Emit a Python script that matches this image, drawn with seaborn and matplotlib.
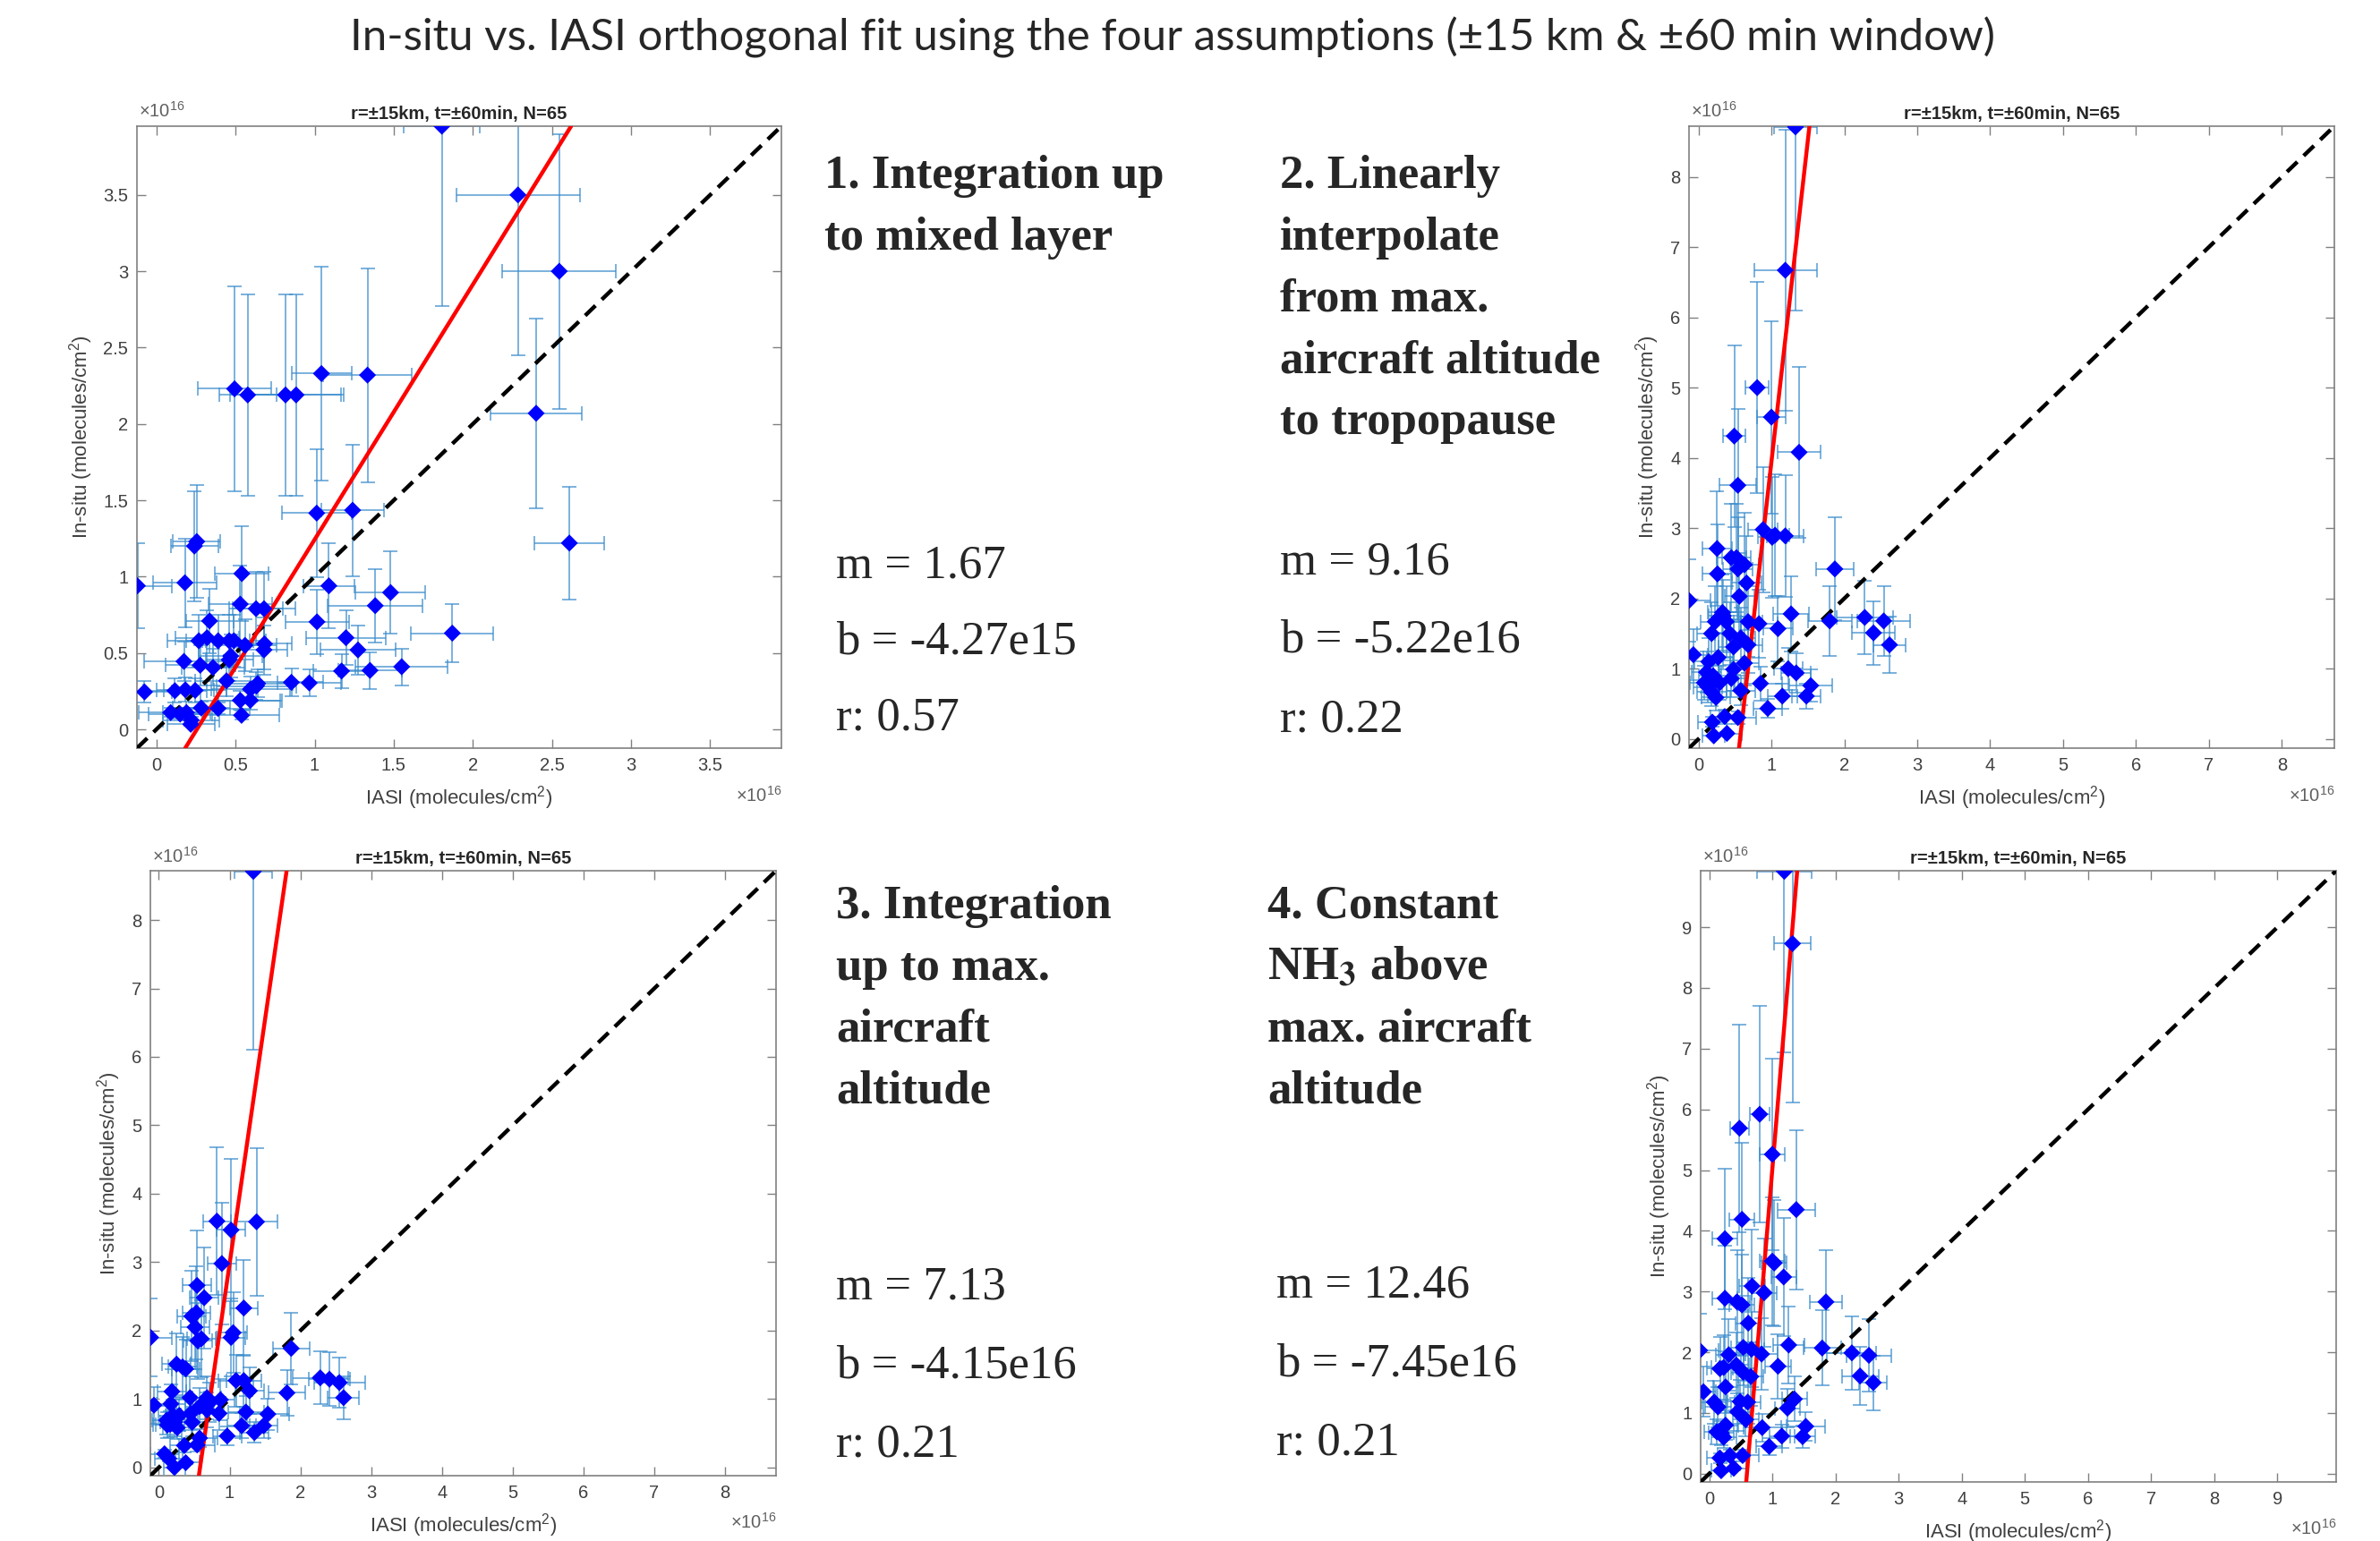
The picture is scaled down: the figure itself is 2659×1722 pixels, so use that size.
import matplotlib
matplotlib.use("Agg")
import matplotlib.pyplot as plt
import seaborn as sns
from matplotlib.ticker import FormatStrFormatter

# Column values are in units of 1e16 molecules/cm^2 (axes show the x10^16 multiplier)

# Panel 1: integration up to mixed layer
iasi_1 = [-0.12, -0.075, 0.09, 0.117, 0.15, 0.174, 0.18, 0.183, 0.19, 0.217,
          0.22, 0.24, 0.245, 0.255, 0.268, 0.277, 0.283, 0.32, 0.336, 0.358,
          0.39, 0.39, 0.443, 0.46, 0.46, 0.47, 0.49, 0.494, 0.53, 0.53,
          0.538, 0.54, 0.56, 0.577, 0.594, 0.594, 0.63, 0.632, 0.64, 0.68,
          0.683, 0.68, 0.816, 0.853, 0.883, 0.966, 1.013, 1.015, 1.043, 1.09,
          1.17, 1.198, 1.24, 1.274, 1.334, 1.35, 1.383, 1.48, 1.55, 1.804,
          1.87, 2.285, 2.40, 2.546, 2.61]
insitu_1 = [0.94, 0.245, 0.11, 0.253, 0.10, 0.445, 0.96, 0.259, 0.11, 0.033,
            0.06, 1.20, 0.255, 1.23, 0.58, 0.42, 0.14, 0.60, 0.71, 0.405,
            0.58, 0.137, 0.318, 0.58, 0.455, 0.48, 0.58, 2.23, 0.82, 0.19,
            0.092, 1.02, 0.55, 2.19, 0.263, 0.19, 0.79, 0.284, 0.30, 0.79,
            0.56, 0.52, 2.19, 0.308, 2.19, 0.304, 1.416, 0.704, 2.33, 0.94,
            0.382, 0.60, 1.435, 0.52, 2.32, 0.386, 0.81, 0.896, 0.41, 3.95,
            0.63, 3.50, 2.07, 3.0, 1.22]
iasi_err_1 = [0.22, 0.17, 0.2, 0.2, 0.2, 0.25, 0.2, 0.18, 0.15, 0.15,
              0.18, 0.15, 0.2, 0.15, 0.2, 0.22, 0.18, 0.2, 0.15, 0.2,
              0.2, 0.2, 0.2, 0.15, 0.15, 0.2, 0.2, 0.23, 0.2, 0.25,
              0.24, 0.17, 0.2, 0.18, 0.25, 0.2, 0.17, 0.25, 0.22, 0.2,
              0.17, 0.15, 0.35, 0.2, 0.3, 0.2, 0.22, 0.2, 0.19, 0.16,
              0.18, 0.25, 0.2, 0.24, 0.28, 0.2, 0.3, 0.22, 0.29, 0.24,
              0.26, 0.39, 0.29, 0.36, 0.22]
insitu_err_1 = [0.28, 0.07, 0.03, 0.08, 0.03, 0.13, 0.29, 0.08, 0.03, 0.01,
                0.02, 0.36, 0.08, 0.37, 0.17, 0.13, 0.04, 0.18, 0.21, 0.12,
                0.17, 0.04, 0.10, 0.17, 0.14, 0.14, 0.17, 0.67, 0.25, 0.06,
                0.03, 0.31, 0.17, 0.66, 0.08, 0.06, 0.24, 0.09, 0.09, 0.24,
                0.17, 0.16, 0.66, 0.09, 0.66, 0.09, 0.42, 0.21, 0.70, 0.28,
                0.11, 0.18, 0.43, 0.16, 0.70, 0.12, 0.24, 0.27, 0.12, 1.18,
                0.19, 1.05, 0.62, 0.90, 0.37]

# Panel 2: linear interpolation from max. aircraft altitude to tropopause
iasi_2 = [-0.13, -0.07, 0.08, 0.11, 0.13, 0.14, 0.18, 0.18, 0.19, 0.20,
          0.21, 0.23, 0.24, 0.255, 0.26, 0.27, 0.29, 0.33, 0.34, 0.36,
          0.38, 0.39, 0.43, 0.45, 0.45, 0.48, 0.48, 0.49, 0.52, 0.54,
          0.54, 0.54, 0.56, 0.58, 0.58, 0.63, 0.63, 0.66, 0.68, 0.68,
          0.805, 0.83, 0.85, 0.886, 0.95, 1.0, 1.01, 1.05, 1.09, 1.15,
          1.19, 1.19, 1.23, 1.27, 1.33, 1.34, 1.38, 1.48, 1.54, 1.80,
          1.87, 2.28, 2.40, 2.54, 2.62]
insitu_2 = [1.97, 1.20, 0.80, 0.95, 0.74, 1.10, 1.50, 0.67, 0.24, 0.90,
            0.045, 1.67, 0.59, 2.71, 2.35, 1.16, 0.80, 1.80, 1.75, 0.32,
            1.67, 0.08, 1.50, 0.86, 2.58, 0.99, 1.31, 4.31, 2.58, 3.61,
            2.42, 0.305, 2.03, 1.44, 0.69, 2.48, 1.08, 2.22, 1.67, 1.34,
            5.0, 1.64, 0.79, 2.98, 0.435, 4.58, 2.87, 2.90, 1.57, 0.61,
            6.67, 2.89, 1.0, 1.78, 8.71, 0.94, 4.08, 0.61, 0.76, 1.68,
            2.42, 1.73, 1.51, 1.68, 1.34]
iasi_err_2 = [0.3, 0.2, 0.2, 0.2, 0.2, 0.2, 0.2, 0.2, 0.2, 0.2,
              0.15, 0.2, 0.2, 0.2, 0.2, 0.2, 0.2, 0.2, 0.2, 0.2,
              0.2, 0.2, 0.2, 0.2, 0.2, 0.2, 0.2, 0.15, 0.2, 0.25,
              0.2, 0.25, 0.2, 0.2, 0.2, 0.2, 0.2, 0.2, 0.2, 0.2,
              0.16, 0.25, 0.3, 0.2, 0.2, 0.2, 0.2, 0.2, 0.2, 0.2,
              0.43, 0.25, 0.2, 0.25, 0.29, 0.2, 0.3, 0.2, 0.3, 0.3,
              0.26, 0.39, 0.29, 0.36, 0.22]
insitu_err_2 = [0.59, 0.36, 0.24, 0.29, 0.22, 0.33, 0.45, 0.20, 0.07, 0.27,
                0.01, 0.50, 0.18, 0.81, 0.70, 0.35, 0.24, 0.54, 0.52, 0.10,
                0.50, 0.02, 0.45, 0.26, 0.77, 0.30, 0.39, 1.29, 0.77, 1.08,
                0.73, 0.09, 0.61, 0.43, 0.21, 0.74, 0.32, 0.67, 0.50, 0.40,
                1.50, 0.49, 0.24, 0.89, 0.13, 1.37, 0.86, 0.87, 0.47, 0.18,
                2.00, 0.87, 0.30, 0.53, 2.61, 0.28, 1.22, 0.18, 0.23, 0.50,
                0.73, 0.52, 0.45, 0.50, 0.40]

# Panel 3: integration up to max. aircraft altitude
iasi_3 = [-0.116, -0.07, 0.08, 0.11, 0.12, 0.14, 0.16, 0.17, 0.185, 0.20,
          0.22, 0.22, 0.25, 0.26, 0.29, 0.335, 0.36, 0.38, 0.38, 0.44,
          0.45, 0.465, 0.47, 0.51, 0.53, 0.54, 0.54, 0.55, 0.575, 0.575,
          0.60, 0.64, 0.68, 0.68, 0.72, 0.82, 0.85, 0.87, 0.89, 0.965,
          1.02, 1.02, 1.05, 1.09, 1.17, 1.20, 1.20, 1.23, 1.28, 1.335,
          1.35, 1.38, 1.48, 1.54, 1.81, 1.87, 2.28, 2.41, 2.55, 2.61]
insitu_3 = [1.90, 0.91, 0.20, 0.69, 0.62, 0.13, 0.63, 0.93, 1.11, 0.76,
            0.66, 0.0, 1.51, 0.58, 0.76, 1.47, 0.32, 1.44, 0.07, 1.02,
            0.79, 2.21, 0.66, 2.05, 2.26, 2.66, 0.33, 1.85, 0.89, 0.43,
            1.88, 2.48, 1.02, 0.84, 0.95, 3.60, 0.79, 0.99, 2.98, 0.46,
            3.47, 1.90, 1.97, 1.27, 0.61, 2.33, 1.27, 0.81, 1.12, 8.71,
            0.51, 3.59, 0.61, 0.78, 1.09, 1.74, 1.31, 1.29, 1.24, 1.02]
iasi_err_3 = [0.3, 0.2, 0.2, 0.2, 0.2, 0.2, 0.2, 0.2, 0.2, 0.2,
              0.2, 0.15, 0.2, 0.2, 0.2, 0.2, 0.2, 0.2, 0.2, 0.2,
              0.2, 0.2, 0.2, 0.2, 0.2, 0.2, 0.25, 0.2, 0.2, 0.25,
              0.2, 0.2, 0.2, 0.2, 0.2, 0.2, 0.3, 0.2, 0.2, 0.2,
              0.2, 0.2, 0.2, 0.25, 0.2, 0.2, 0.25, 0.25, 0.2, 0.27,
              0.2, 0.3, 0.2, 0.3, 0.26, 0.26, 0.39, 0.29, 0.36, 0.22]
insitu_err_3 = [0.57, 0.27, 0.06, 0.21, 0.19, 0.04, 0.19, 0.28, 0.33, 0.23,
                0.20, 0.0, 0.45, 0.17, 0.23, 0.44, 0.10, 0.43, 0.02, 0.31,
                0.24, 0.66, 0.20, 0.62, 0.68, 0.80, 0.10, 0.56, 0.27, 0.13,
                0.56, 0.74, 0.31, 0.25, 0.29, 1.08, 0.24, 0.30, 0.89, 0.14,
                1.04, 0.57, 0.59, 0.38, 0.18, 0.70, 0.38, 0.24, 0.34, 2.61,
                0.15, 1.08, 0.18, 0.23, 0.33, 0.52, 0.39, 0.39, 0.37, 0.31]

# Panel 4: constant NH3 above max. aircraft altitude
iasi_4 = [-0.15, -0.09, 0.08, 0.12, 0.14, 0.17, 0.17, 0.19, 0.19, 0.23,
          0.23, 0.25, 0.25, 0.26, 0.26, 0.31, 0.33, 0.39, 0.43, 0.44,
          0.45, 0.48, 0.49, 0.52, 0.52, 0.53, 0.54, 0.54, 0.58, 0.61,
          0.62, 0.66, 0.67, 0.68, 0.80, 0.83, 0.84, 0.87, 0.95, 1.0,
          1.0, 1.03, 1.09, 1.15, 1.18, 1.19, 1.24, 1.26, 1.32, 1.35,
          1.38, 1.48, 1.53, 1.79, 1.85, 2.26, 2.39, 2.53, 2.60]
insitu_4 = [2.03, 1.35, 1.18, 0.69, 1.10, 1.73, 0.26, 0.67, 0.05, 1.75,
            0.60, 3.87, 2.89, 1.43, 0.80, 1.96, 0.30, 0.09, 1.79, 2.83,
            1.02, 5.69, 1.19, 4.19, 2.78, 0.30, 2.08, 1.67, 0.89, 1.18,
            2.48, 1.60, 2.05, 3.09, 5.92, 1.97, 0.76, 2.98, 0.45, 5.26,
            3.50, 3.47, 1.77, 0.62, 3.24, 9.92, 1.08, 2.12, 8.73, 1.23,
            4.35, 0.61, 0.78, 2.07, 2.83, 1.99, 1.61, 1.95, 1.50]
iasi_err_4 = [0.3, 0.2, 0.2, 0.2, 0.2, 0.2, 0.2, 0.2, 0.15, 0.2,
              0.2, 0.2, 0.2, 0.2, 0.2, 0.2, 0.2, 0.2, 0.2, 0.2,
              0.2, 0.15, 0.2, 0.2, 0.2, 0.25, 0.2, 0.2, 0.2, 0.2,
              0.2, 0.2, 0.2, 0.2, 0.16, 0.25, 0.3, 0.2, 0.2, 0.2,
              0.2, 0.2, 0.2, 0.2, 0.2, 0.43, 0.2, 0.25, 0.29, 0.2,
              0.3, 0.2, 0.3, 0.3, 0.26, 0.39, 0.29, 0.36, 0.22]
insitu_err_4 = [0.61, 0.41, 0.35, 0.21, 0.33, 0.52, 0.08, 0.20, 0.02, 0.53,
                0.18, 1.16, 0.87, 0.43, 0.24, 0.59, 0.09, 0.03, 0.54, 0.85,
                0.31, 1.71, 0.36, 1.26, 0.83, 0.09, 0.62, 0.50, 0.27, 0.35,
                0.74, 0.48, 0.62, 0.93, 1.78, 0.59, 0.23, 0.89, 0.14, 1.58,
                1.05, 1.04, 0.53, 0.19, 0.97, 2.98, 0.32, 0.64, 2.62, 0.37,
                1.31, 0.18, 0.23, 0.62, 0.85, 0.60, 0.48, 0.59, 0.45]

# Orthogonal fit results
slopes = [1.67, 9.16, 7.13, 12.46]
intercepts = [-4.27e15, -5.22e16, -4.15e16, -7.45e16]
intercept_labels = ["-4.27e15", "-5.22e16", "-4.15e16", "-7.45e16"]
r_values = [0.57, 0.22, 0.21, 0.21]

# Axis limits and ticks (x10^16)
axis_limits = [(-0.123, 3.95), (-0.13, 8.72), (-0.12, 8.72), (-0.135, 9.93)]
axis_ticks = [[0, 0.5, 1, 1.5, 2, 2.5, 3, 3.5],
              [0, 1, 2, 3, 4, 5, 6, 7, 8],
              [0, 1, 2, 3, 4, 5, 6, 7, 8],
              [0, 1, 2, 3, 4, 5, 6, 7, 8, 9]]

panel_title = "r=±15km, t=±60min, N=65"
main_title = "In-situ vs. IASI orthogonal fit using the four assumptions (±15 km & ±60 min window)"
method_lines = [
    ["1. Integration up", "to mixed layer"],
    ["2. Linearly", "interpolate", "from max.", "aircraft altitude", "to tropopause"],
    ["3. Integration", "up to max.", "aircraft", "altitude"],
    ["4. Constant", r"NH$_\mathbf{3}$ above", "max. aircraft", "altitude"],
]

# ---- style ----
sns.set_theme(style="ticks")
plt.rcParams["font.family"] = ["Liberation Sans", "DejaVu Sans"]
plt.rcParams["mathtext.fontset"] = "custom"
plt.rcParams["mathtext.rm"] = "Liberation Sans"
plt.rcParams["mathtext.it"] = "Liberation Sans:italic"
plt.rcParams["mathtext.bf"] = "Liberation Sans:bold"

W, H = 2659, 1722
BOX = "#808080"
TXT = "#404040"
ERR = "#3a8ccb"
SERIF = ["Liberation Serif", "DejaVu Serif"]

fig = plt.figure(figsize=(W / 100, H / 100), dpi=100)
fig.patch.set_facecolor("white")


def px(x, y):
    return x / W, 1 - y / H


def axes_box(left, top, right, bottom):
    return [left / W, 1 - bottom / H, (right - left) / W, (bottom - top) / H]


# axes placement in pixels (left, top, right, bottom)
boxes = [(153, 141, 873, 836), (1887, 141, 2608, 836),
         (168, 973, 867, 1649), (1900, 973, 2610, 1656)]

panels = [(iasi_1, insitu_1, iasi_err_1, insitu_err_1),
          (iasi_2, insitu_2, iasi_err_2, insitu_err_2),
          (iasi_3, insitu_3, iasi_err_3, insitu_err_3),
          (iasi_4, insitu_4, iasi_err_4, insitu_err_4)]


def draw_panel(ax, data, slope, intercept, lims, ticks):
    iasi, insitu, iasi_err, insitu_err = data
    ax.errorbar(iasi, insitu, xerr=iasi_err, yerr=insitu_err, fmt="none",
                ecolor=ERR, elinewidth=1.1, capsize=5.5, capthick=1.1,
                alpha=0.85, zorder=2)
    ax.axline((0, 0), slope=1, color="black", lw=3.2,
              linestyle=(0, (3.6, 2.2)), zorder=3)
    ax.axline((0, intercept / 1e16), slope=slope, color="red", lw=3.2, zorder=3)
    sns.scatterplot(x=iasi, y=insitu, ax=ax, marker="D", s=95,
                    color="#0000ff", edgecolor="none", linewidth=0, zorder=4)

    ax.set_xlim(*lims)
    ax.set_ylim(*lims)
    ax.set_xticks(ticks)
    ax.set_yticks(ticks)
    ax.xaxis.set_major_formatter(FormatStrFormatter("%g"))
    ax.yaxis.set_major_formatter(FormatStrFormatter("%g"))
    ax.tick_params(axis="both", direction="in", top=True, right=True,
                   length=7, width=1.0, color=BOX, labelsize=14.5,
                   labelcolor=TXT, pad=7)
    for sp in ax.spines.values():
        sp.set_visible(True)
        sp.set_color(BOX)
        sp.set_linewidth(1.2)

    ax.set_title(panel_title, fontsize=14.5, fontweight="bold", pad=6)
    ax.set_xlabel("IASI (molecules/cm$^2$)", fontsize=16, color=TXT, labelpad=8)
    ax.set_ylabel("In-situ (molecules/cm$^2$)", fontsize=16, color=TXT, labelpad=7)
    ax.text(0.003, 1.024, "×10$^{16}$", transform=ax.transAxes, ha="left",
            va="center", fontsize=14.5, color="#606060")
    ax.text(1.0, -0.076, "×10$^{16}$", transform=ax.transAxes, ha="right",
            va="center", fontsize=14.5, color="#606060")


for i in range(4):
    ax = fig.add_axes(axes_box(*boxes[i]))
    draw_panel(ax, panels[i], slopes[i], intercepts[i], axis_limits[i], axis_ticks[i])

# main title
fig.text(*px(1310, 42), main_title, ha="center", va="center",
         fontsize=35.5, family=["Lato", "DejaVu Sans"])

# method descriptions (bold serif) and fit statistics
method_pos = [(921, 210), (1430, 210), (934, 1026), (1416, 1026)]
line_step = 68.7
for i, lines in enumerate(method_lines):
    x0, y0 = method_pos[i]
    for j, line in enumerate(lines):
        fig.text(*px(x0, y0 + j * line_step), line, ha="left", va="baseline",
                 fontsize=38, fontweight="bold", family=SERIF,
                 math_fontfamily="stix")

stat_x = [934, 1430, 934, 1426]
stat_y = [[646, 731, 816], [641, 729, 817], [1452, 1540, 1628], [1450, 1538, 1626]]
for i in range(4):
    texts = [f"m = {slopes[i]:.2f}", f"b = {intercept_labels[i]}", f"r: {r_values[i]:.2f}"]
    for t, y in zip(texts, stat_y[i]):
        fig.text(*px(stat_x[i], y), t, ha="left", va="baseline",
                 fontsize=38, family=SERIF)

fig.savefig("out.png", dpi=100, facecolor="white")
